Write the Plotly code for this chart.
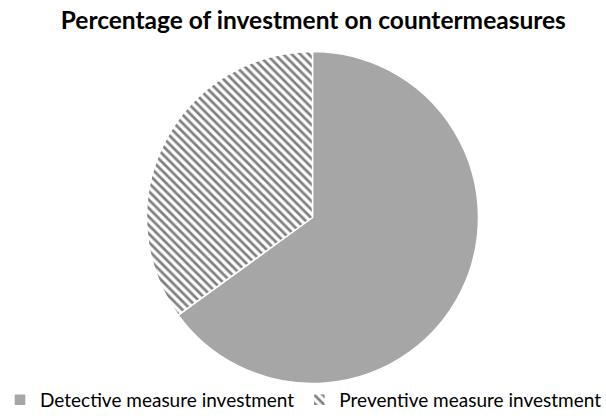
import plotly.graph_objects as go

labels = ["Detective measure investment", "Preventive measure investment"]
values = [65, 35]
title_text = "Percentage of investment on countermeasures"

W, H = 606, 419
MB = 30
HP = H - MB
cx, cy, r = 312.5, 217.5, 166

fig = go.Figure(go.Pie(
    labels=labels,
    values=values,
    sort=False,
    direction="clockwise",
    rotation=0,
    textinfo="none",
    hoverinfo="label+percent",
    marker=dict(
        colors=["#a6a6a6", "#ffffff"],
        line=dict(color="#ffffff", width=1.5),
        pattern=dict(shape=["", "\\"], fgcolor="#7f7f7f", bgcolor="#ffffff",
                     size=6, solidity=0.45),
    ),
    domain=dict(x=[(cx - r) / W, (cx + r) / W],
                y=[(HP - cy - r) / HP, (HP - cy + r) / HP]),
))

fig.update_layout(
    width=W, height=H,
    margin=dict(l=0, r=0, t=0, b=MB, autoexpand=False),
    paper_bgcolor="white",
    plot_bgcolor="white",
    title=dict(text="<b>" + title_text + "</b>", x=0.517, xanchor="center",
               y=1 - 12 / H, yanchor="top",
               font=dict(family="Lato, Open Sans, sans-serif", size=24.5, color="#000000")),
    legend=dict(orientation="h", x=0.0, xanchor="left", y=-MB / HP, yanchor="bottom",
                font=dict(family="Lato, Open Sans, sans-serif", size=19, color="#000000"),
                itemwidth=30, tracegroupgap=0, bgcolor="rgba(0,0,0,0)"),
    showlegend=True,
)

fig.write_html("out.html", config={"displayModeBar": False},
               post_script="document.body.style.margin='0';document.body.style.overflow='hidden';")
